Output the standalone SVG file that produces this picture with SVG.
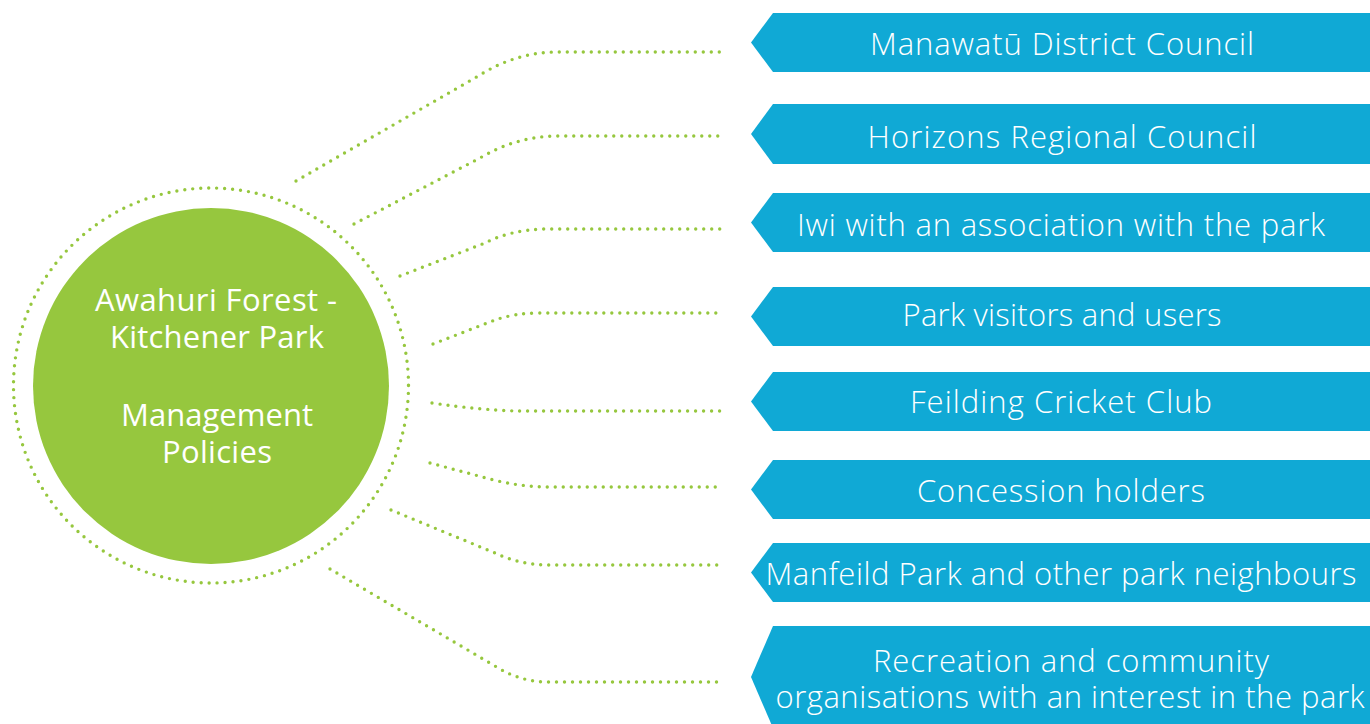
<svg xmlns="http://www.w3.org/2000/svg" width="1370" height="724" viewBox="0 0 1370 724">
<style>
.dot{fill:none;stroke:#96C73E;stroke-width:3.4;stroke-dasharray:0 8;stroke-linecap:round}
.ban{fill:#10A9D5}
.t{font-family:"Open Sans","Liberation Sans",sans-serif;font-weight:300;font-size:31px;fill:#fff;text-anchor:middle}
.c{font-family:"Open Sans","Liberation Sans",sans-serif;font-size:31px;fill:#fff;text-anchor:middle}
</style>
<rect width="1370" height="724" fill="#fff"/>
<g id="center">
<circle cx="211" cy="385.5" r="197.5" class="dot"/>
<circle cx="211" cy="386" r="178" fill="#96C73E"/>
<text class="c" x="216" y="311" textLength="242" lengthAdjust="spacing">Awahuri Forest -</text>
<text class="c" x="217" y="348" textLength="214" lengthAdjust="spacing">Kitchener Park</text>
<text class="c" x="217" y="426" textLength="192" lengthAdjust="spacing">Management</text>
<text class="c" x="217" y="463" textLength="110" lengthAdjust="spacing">Policies</text>
</g>
<g id="connectors">
<path class="dot" d="M296 181 L480 75 Q515 53 555 52 L722 52"/>
<path class="dot" d="M354 224 L480 158 Q515 137 555 136 L722 136"/>
<path class="dot" d="M400 276 L485 243 Q510 230 545 229 L722 229"/>
<path class="dot" d="M433 344 L495 320 Q515 313 540 313 L722 313"/>
<path class="dot" d="M432 403 Q480 410 517 411 L722 411"/>
<path class="dot" d="M430 463 L490 479 Q520 487 550 487 L722 487"/>
<path class="dot" d="M391 510 L495 553 Q520 565 550 565 L722 565"/>
<path class="dot" d="M330 569 L495 666 Q520 682 548 682 L722 682"/>
</g>
<g id="n1"><polygon class="ban" points="773,13 1370,13 1370,72 773,72 751,42.5"/><text class="t" x="1062" y="55" textLength="384" lengthAdjust="spacing">Manawatū District Council</text></g>
<g id="n2"><polygon class="ban" points="773,104 1370,104 1370,164 773,164 751,134"/><text class="t" x="1062" y="148" textLength="389" lengthAdjust="spacing">Horizons Regional Council</text></g>
<g id="n3"><polygon class="ban" points="773,193 1370,193 1370,252 773,252 751,222.5"/><text class="t" x="1061" y="236" textLength="528" lengthAdjust="spacing">Iwi with an association with the park</text></g>
<g id="n4"><polygon class="ban" points="773,287 1370,287 1370,346 773,346 751,316.5"/><text class="t" x="1062" y="326" textLength="319" lengthAdjust="spacing">Park visitors and users</text></g>
<g id="n5"><polygon class="ban" points="773,372 1370,372 1370,431 773,431 751,401.5"/><text class="t" x="1061" y="413" textLength="302" lengthAdjust="spacing">Feilding Cricket Club</text></g>
<g id="n6"><polygon class="ban" points="773,460 1370,460 1370,519 773,519 751,489.5"/><text class="t" x="1061" y="502" textLength="288" lengthAdjust="spacing">Concession holders</text></g>
<g id="n7"><polygon class="ban" points="773,543 1370,543 1370,602 773,602 751,572.5"/><text class="t" x="1061" y="585" textLength="591" lengthAdjust="spacing">Manfeild Park and other park neighbours</text></g>
<g id="n8"><polygon class="ban" points="773,626 1370,626 1370,728 773,728 751,677"/><text class="t" x="1071" y="672" textLength="396" lengthAdjust="spacing">Recreation and community</text><text class="t" x="1070" y="708" textLength="589" lengthAdjust="spacing">organisations with an interest in the park</text></g>
</svg>
